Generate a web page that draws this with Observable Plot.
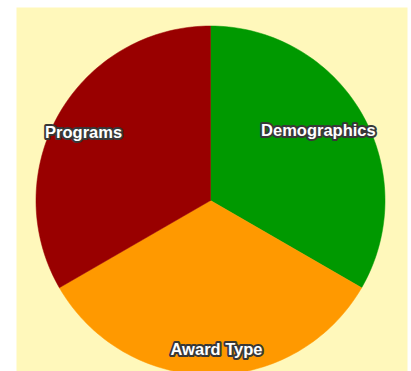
<!DOCTYPE html>
<html>
<head>
<meta charset="utf-8">
<script src="https://cdn.jsdelivr.net/npm/d3@7"></script>
<script src="https://cdn.jsdelivr.net/npm/@observablehq/plot@0.6"></script>
<style>
  html, body { margin: 0; padding: 0; background: #ffffff; overflow: hidden; }
  #chart svg { display: block; }
</style>
</head>
<body>
<div id="chart"></div>
<script>
const categories = ["Demographics", "Award Type", "Programs"];
const values = [1, 1, 1];

const arcs = d3.pie().sort(null).value(d => d.value)(
  categories.map((c, i) => ({category: c, value: values[i]}))
);

// slice polygons in unit-radius coordinates
const slicePts = [];
arcs.forEach(a => {
  const cat = a.data.category;
  slicePts.push({category: cat, x: 0, y: 0});
  const n = 80;
  for (let k = 0; k <= n; k++) {
    const t = a.startAngle + (a.endAngle - a.startAngle) * k / n;
    slicePts.push({category: cat, x: Math.sin(t), y: Math.cos(t)});
  }
  slicePts.push({category: cat, x: 0, y: 0});
});

const labelR = 0.8;
const labels = arcs.map(a => {
  const m = (a.startAngle + a.endAngle) / 2;
  return {category: a.data.category, x: labelR * Math.sin(m), y: labelR * Math.cos(m)};
});

const textStyle = {
  x: "x", y: "y", text: "category",
  fill: "white", stroke: "#383838", strokeWidth: 4,
  fontSize: 16.5, fontWeight: "bold", fontFamily: "Liberation Sans, Arial, sans-serif"
};
const nudge = {"Demographics": [-13, 0], "Programs": [-6, 2], "Award Type": [6, 10]};

const chart = Plot.plot({
  width: 411,
  height: 371,
  marginLeft: 16,
  marginTop: 7,
  marginRight: 4,
  marginBottom: 0,
  x: {domain: [-1.1117, 1.1289], axis: null},
  y: {domain: [-0.9799, 1.1060], axis: null},
  color: {domain: categories, range: ["#009900", "#ff9900", "#990000"]},
  style: {background: "transparent", overflow: "hidden"},
  marks: [
    Plot.frame({fill: "#fff8bb", stroke: "none"}),
    Plot.line(slicePts, {x: "x", y: "y", z: "category", fill: "category", stroke: "category", strokeWidth: 0.5, curve: "linear"}),
    ...categories.map(c => Plot.text(labels.filter(d => d.category === c), {
      ...textStyle, dx: nudge[c][0], dy: nudge[c][1]
    }))
  ]
});
document.getElementById("chart").appendChild(chart);
</script>
</body>
</html>
